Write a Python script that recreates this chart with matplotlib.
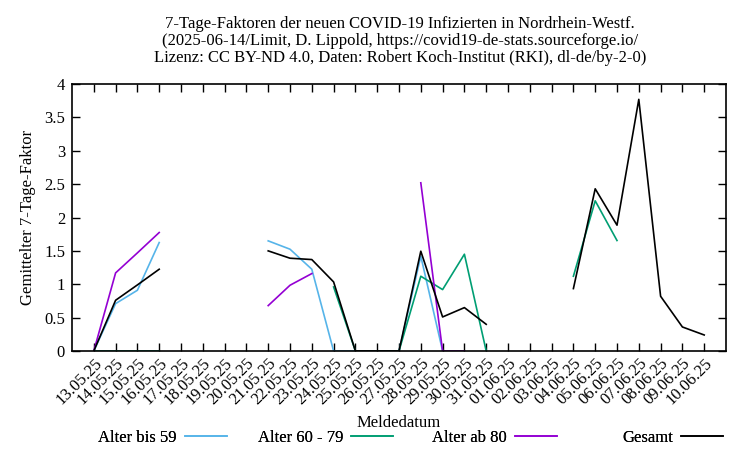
import numpy as np
import matplotlib.pyplot as plt

plt.rcParams['font.family'] = ['Liberation Serif', 'DejaVu Serif']
plt.rcParams['font.size'] = 12

# Data
dates = ['13.05.25', '14.05.25', '15.05.25', '16.05.25', '17.05.25', '18.05.25',
         '19.05.25', '20.05.25', '21.05.25', '22.05.25', '23.05.25', '24.05.25',
         '25.05.25', '26.05.25', '27.05.25', '28.05.25', '29.05.25', '30.05.25',
         '31.05.25', '01.06.25', '02.06.25', '03.06.25', '04.06.25', '05.06.25',
         '06.06.25', '07.06.25', '08.06.25', '09.06.25', '10.06.25']
nan = np.nan
bis59 = [0, 0.71, 0.91, 1.625, nan, nan, nan, nan, 1.65, 1.525, 1.225, 0,
         0, 0, 0, 1.42, 0, nan, nan, nan, nan, nan, nan, nan,
         nan, nan, nan, nan, nan]
alter60_79 = [0, 0, 0, 0, nan, nan, nan, nan, nan, nan, nan, 0.96,
              0, 0, 0, 1.12, 0.92, 1.45, 0, nan, nan, nan, 1.12, 2.25,
              1.655, nan, nan, nan, nan]
ab80 = [0, 1.17, 1.47, 1.775, nan, nan, nan, nan, 0.68, 0.985, 1.16, nan,
        nan, nan, nan, 2.52, 0, 0, nan, nan, nan, nan, nan, nan,
        nan, nan, nan, nan, nan]
gesamt = [0, 0.76, 0.99, 1.225, nan, nan, nan, nan, 1.5, 1.39, 1.37, 1.035,
          0, 0, 0, 1.495, 0.51, 0.65, 0.40, nan, nan, nan, 0.935, 2.43,
          1.885, 3.77, 0.82, 0.36, 0.24]

series = [('Alter bis 59', bis59, '#56b4e9'),
          ('Alter 60 - 79', alter60_79, '#009e73'),
          ('Alter ab 80', ab80, '#9400d3'),
          ('Gesamt', gesamt, '#000000')]

fig = plt.figure(figsize=(7.5, 4.5), dpi=100)
ax = fig.add_axes([72 / 750, 1 - 351 / 450, (726 - 72) / 750, (351 - 84) / 450])

x = np.arange(len(dates))
lines = []
for name, vals, col in series:
    ln, = ax.plot(x, vals, color=col, lw=1.2, label=name)
    lines.append(ln)

ax.set_xlim(-1, len(dates))
ax.set_ylim(0, 4)
ax.set_xticks(x)
ax.set_xticklabels(dates, rotation=45, ha='right', va='top', rotation_mode='anchor')
yt = np.arange(0, 4.01, 0.5)
ax.set_yticks(yt)
ax.set_yticklabels(['%g' % v for v in yt])
ax.tick_params(direction='in', length=6, width=1, top=True, right=True, pad=5)
ax.tick_params(axis='x', pad=3)
for s in ax.spines.values():
    s.set_linewidth(1.2)

ax.set_ylabel('Gemittelter 7-Tage-Faktor', labelpad=6)
fig.text(399 / 750, 1 - 423 / 450, 'Meldedatum', ha='center', va='center')

fig.text(400 / 750, 1 - 41 / 450,
         '7-Tage-Faktoren der neuen COVID-19 Infizierten in Nordrhein-Westf.\n'
         '(2025-06-14/Limit, D. Lippold, https://covid19-de-stats.sourceforge.io/\n'
         'Lizenz: CC BY-ND 4.0, Daten: Robert Koch-Institut (RKI), dl-de/by-2-0)',
         ha='center', va='center', linespacing=1.05)

# legend row below the plot, gnuplot style (text then sample)
leg_right = [227, 393, 557, 723]
for ln, xr in zip(lines, leg_right):
    lg = fig.legend(handles=[ln], loc='center right', bbox_to_anchor=(xr / 750, 1 - 438 / 450),
                    frameon=False, markerfirst=False, handlelength=2.5, handletextpad=0.5,
                    borderpad=0, borderaxespad=0)
    fig.add_artist(lg)

fig.savefig('out.png', dpi=100)
